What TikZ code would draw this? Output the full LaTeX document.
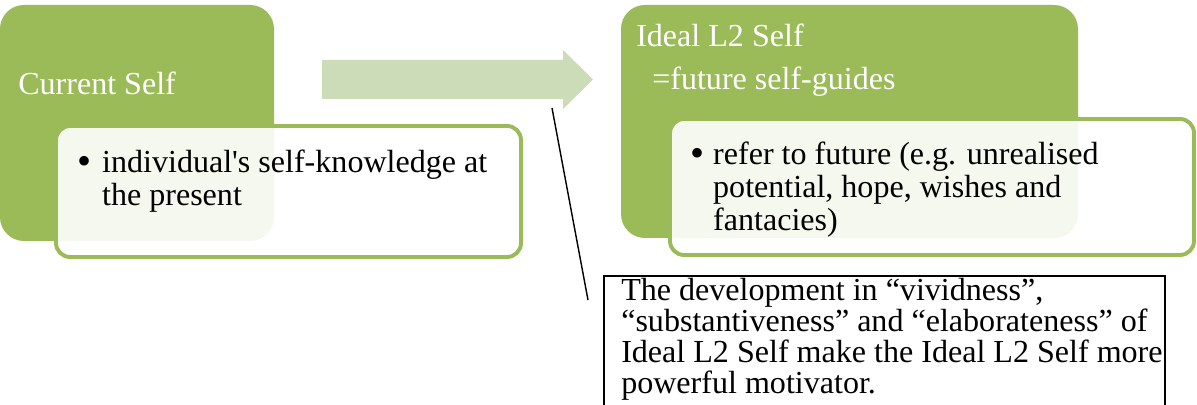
\documentclass[tikz,border=0pt]{standalone}
\usepackage{fontspec}
\setmainfont{Liberation Serif}
\usepackage{tikz}

\definecolor{selfgreen}{HTML}{9BBB59}
\definecolor{arrowgreen}{HTML}{CCDBB8}

\tikzset{
  selfbox/.style = {fill=selfgreen, rounded corners=17pt},
  notebox/.style = {draw=selfgreen, line width=2.8pt, fill=white, fill opacity=0.9, rounded corners=10pt},
  headtext/.style = {text=white, anchor=base west, inner sep=0pt},
  notetext/.style = {anchor=base west, inner sep=0pt},
}

\newcommand{\bigtext}{\fontsize{22.8}{23.4}\selectfont}
\newcommand{\bul}[1]{\makebox[#1][l]{\raisebox{-1pt}{\scalebox{1.25}{\textbullet}}}}

\begin{document}
\begin{tikzpicture}[x=0.025cm, y=-0.025cm, font=\bigtext]
  \clip (0, 0) rectangle (1197, 405);

  % current self
  \fill[selfbox] (0, 5) rectangle (274, 241);
  \node[headtext] (current) at (18, 95) {Current Self};
  \filldraw[notebox] (56, 126) rectangle (521, 257);
  \node[notetext] (currentnote) at (77, 173)
    {\begin{tabular}[t]{@{}l@{}l@{}}\bul{17.7pt} & individual\textquotesingle s self-knowledge at\\ & the present\end{tabular}};

  % block arrow
  \fill[arrowgreen] (322, 60) -- (563, 60) -- (563, 50) -- (593, 79.5)
    -- (563, 109) -- (563, 99) -- (322, 99) -- cycle;

  % ideal L2 self
  \fill[selfbox] (621, 5) rectangle (1078, 238);
  \node[headtext] (ideal) at (636, 47) {Ideal L2 Self};
  \node[headtext] (guides) at (652, 90) {=future self-guides};
  \filldraw[notebox] (670, 119) rectangle (1194, 255);
  \node[notetext] (idealnote) at (690, 165)
    {\begin{tabular}[t]{@{}l@{}l@{}}\bul{16.3pt} & refer to future (e.g. unrealised\\ & potential, hope, wishes and\\ & fantacies)\end{tabular}};

  % callout
  \coordinate (pointer) at (552, 108);
  \coordinate (pointerend) at (588, 300);
  \draw[line width=1pt] (pointer) -- (pointerend);
  \draw[line width=1pt] (604, 410) -- (604, 276) -- (1165, 276) -- (1165, 410);
  \node[notetext, font=\fontsize{22.8}{19.6}\selectfont] (callout) at (621, 301)
    {\begin{tabular}[t]{@{}l@{}}The development in ``vividness'',\\
      ``substantiveness'' and ``elaborateness'' of\\
      Ideal L2 Self make the Ideal L2 Self more\\
      powerful motivator.\end{tabular}};
\end{tikzpicture}
\end{document}
